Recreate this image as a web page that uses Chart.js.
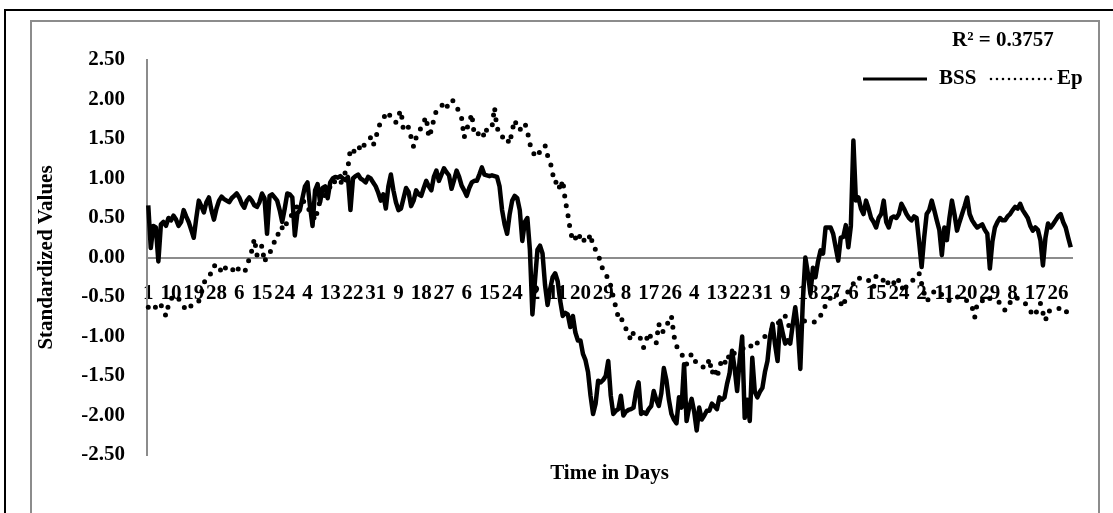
<!DOCTYPE html>
<html>
<head>
<meta charset="utf-8">
<script src="https://cdn.jsdelivr.net/npm/chart.js@4.4.1/dist/chart.umd.min.js"></script>
<style>
  html, body { margin: 0; padding: 0; background: #fff; }
  canvas { display: block; }
</style>
</head>
<body>
<canvas id="chart" width="1113" height="513"></canvas>
<script>
// Leap year: day-of-month labels for every daily observation
const monthDays = [31, 29, 31, 30, 31, 30, 31, 31, 30, 31, 30, 31];
const dayLabels = [];
monthDays.forEach(n => { for (let d = 1; d <= n; d++) dayLabels.push(String(d)); });
const labelStep = 9;

// Standardized daily series
const bss = [
  0.66, 0.12, 0.40, 0.38, -0.05, 0.42, 0.45, 0.40, 0.50, 0.47,
  0.53, 0.48, 0.40, 0.45, 0.60, 0.52, 0.45, 0.35, 0.25, 0.50,
  0.72, 0.65, 0.57, 0.70, 0.76, 0.60, 0.48, 0.62, 0.72, 0.77,
  0.74, 0.72, 0.70, 0.75, 0.78, 0.81, 0.76, 0.68, 0.63, 0.72,
  0.76, 0.72, 0.66, 0.64, 0.70, 0.81, 0.75, 0.30, 0.78, 0.80,
  0.76, 0.72, 0.60, 0.45, 0.62, 0.81, 0.80, 0.76, 0.28, 0.56,
  0.60, 0.75, 0.90, 0.95, 0.65, 0.40, 0.85, 0.93, 0.70, 0.88,
  0.90, 0.75, 0.95, 1.00, 1.02, 1.01, 1.03, 1.00, 0.98, 1.02,
  0.60, 1.00, 1.03, 1.05, 1.00, 0.98, 0.95, 1.02, 1.00, 0.95,
  0.90, 0.82, 0.72, 0.80, 0.62, 0.90, 1.05, 0.85, 0.70, 0.60,
  0.62, 0.75, 0.88, 0.83, 0.65, 0.72, 0.85, 0.80, 0.78, 0.88,
  0.97, 0.90, 0.85, 1.02, 1.10, 0.97, 1.05, 1.13, 1.08, 1.04,
  0.87, 0.98, 1.10, 1.02, 0.91, 0.85, 0.78, 0.88, 0.95, 0.97,
  0.97, 1.05, 1.14, 1.05, 1.04, 1.03, 1.04, 1.03, 1.02, 0.90,
  0.60, 0.42, 0.30, 0.55, 0.72, 0.78, 0.75, 0.60, 0.21, 0.45,
  0.50, 0.10, -0.72, -0.30, 0.10, 0.15, 0.05, -0.35, -0.60, -0.40,
  -0.25, -0.20, -0.30, -0.55, -0.74, -0.70, -0.72, -0.88, -0.74, -0.95,
  -1.05, -1.05, -1.22, -1.30, -1.45, -1.75, -1.98, -1.85, -1.56, -1.58,
  -1.55, -1.50, -1.31, -1.75, -1.98, -1.94, -1.92, -1.75, -2.00, -1.95,
  -1.93, -1.92, -1.90, -1.70, -1.58, -1.98, -1.96, -1.98, -1.92, -1.88,
  -1.69, -1.80, -1.88, -1.72, -1.40, -1.55, -1.80, -1.98, -2.05, -2.10,
  -1.77, -1.90, -1.35, -2.07, -1.90, -1.79, -1.95, -2.19, -1.90, -2.05,
  -2.00, -1.94, -1.94, -1.85, -1.88, -1.92, -1.77, -1.80, -1.77, -1.60,
  -1.47, -1.18, -1.40, -1.69, -1.30, -1.00, -2.03, -1.80, -2.07, -1.27,
  -1.70, -1.77, -1.70, -1.65, -1.45, -1.31, -1.00, -0.84, -1.10, -1.31,
  -0.80, -0.95, -1.09, -1.05, -1.09, -0.85, -0.63, -0.90, -1.41, -0.55,
  0.00, -0.20, -0.46, -0.13, -0.25, -0.05, 0.09, 0.05, 0.38, 0.38,
  0.38, 0.30, 0.13, -0.04, 0.25, 0.26, 0.41, 0.13, 0.40, 1.48,
  0.72, 0.76, 0.62, 0.55, 0.72, 0.62, 0.50, 0.45, 0.38, 0.50,
  0.55, 0.72, 0.45, 0.38, 0.50, 0.52, 0.50, 0.55, 0.68, 0.62,
  0.55, 0.50, 0.47, 0.52, 0.50, 0.20, -0.12, 0.25, 0.55, 0.60,
  0.72, 0.60, 0.47, 0.35, 0.03, 0.38, 0.22, 0.50, 0.72, 0.55,
  0.34, 0.45, 0.55, 0.65, 0.76, 0.55, 0.47, 0.42, 0.38, 0.40,
  0.42, 0.35, 0.30, -0.14, 0.20, 0.38, 0.45, 0.50, 0.47, 0.47,
  0.52, 0.55, 0.60, 0.64, 0.62, 0.68, 0.60, 0.55, 0.50, 0.40,
  0.34, 0.38, 0.35, 0.22, -0.10, 0.25, 0.43, 0.38, 0.42, 0.47,
  0.52, 0.55, 0.45, 0.38, 0.25, 0.13
];

const ep = [
  -0.63, -0.66, -0.67, -0.62, -0.57, -0.60, -0.67, -0.74, -0.60, -0.52,
  -0.50, -0.48, -0.52, -0.58, -0.62, -0.67, -0.63, -0.61, -0.57, -0.55,
  -0.55, -0.45, -0.32, -0.28, -0.25, -0.18, -0.10, -0.12, -0.10, -0.20,
  -0.15, -0.12, -0.13, -0.12, -0.20, -0.15, -0.14, -0.16, -0.19, -0.12,
  -0.01, 0.09, 0.24, 0.03, 0.10, 0.15, -0.06, 0.03, 0.06, 0.11,
  0.21, 0.30, 0.28, 0.38, 0.35, 0.47, 0.50, 0.55, 0.60, 0.65,
  0.68, 0.72, 0.70, 0.62, 0.60, 0.55, 0.47, 0.60, 0.72, 0.75,
  0.80, 0.85, 0.90, 0.98, 0.95, 0.91, 0.93, 1.00, 1.08, 1.14,
  1.38, 1.36, 1.32, 1.33, 1.44, 1.40, 1.45, 1.48, 1.52, 1.42,
  1.50, 1.65, 1.70, 1.74, 1.84, 1.80, 1.80, 1.78, 1.71, 1.80,
  1.86, 1.60, 1.62, 1.65, 1.52, 1.40, 1.52, 1.58, 1.65, 1.72,
  1.78, 1.52, 1.61, 1.75, 1.86, 1.90, 1.92, 1.95, 1.89, 1.97,
  2.00, 1.97, 1.90, 1.85, 1.76, 1.52, 1.63, 1.70, 1.82, 1.55,
  1.55, 1.58, 1.61, 1.52, 1.63, 1.62, 1.65, 1.90, 1.63, 1.60,
  1.52, 1.55, 1.50, 1.44, 1.61, 1.74, 1.65, 1.61, 1.68, 1.70,
  1.60, 1.44, 1.33, 1.30, 1.27, 1.35, 1.40, 1.42, 1.29, 1.22,
  1.06, 0.94, 0.98, 0.85, 0.98, 0.72, 0.55, 0.34, 0.21, 0.25,
  0.20, 0.30, 0.24, 0.19, 0.21, 0.30, 0.13, 0.10, 0.05, -0.08,
  -0.16, -0.23, -0.25, -0.36, -0.50, -0.63, -0.76, -0.74, -0.86, -0.90,
  -0.97, -1.05, -0.95, -0.97, -1.00, -1.03, -1.14, -1.05, -0.95, -1.02,
  -1.08, -1.08, -0.84, -0.95, -0.93, -0.90, -0.77, -0.74, -0.99, -1.12,
  -1.18, -1.22, -1.28, -1.35, -1.28, -1.22, -1.30, -1.33, -1.36, -1.39,
  -1.38, -1.39, -1.28, -1.47, -1.39, -1.52, -1.40, -1.28, -1.32, -1.35,
  -1.20, -1.22, -1.21, -1.20, -1.18, -1.16, -1.14, -1.12, -1.10, -1.15,
  -1.12, -1.08, -1.05, -1.02, -1.00, -0.98, -0.95, -0.90, -0.85, -0.84,
  -0.80, -0.76, -0.74, -0.84, -0.89, -0.85, -0.82, -0.80, -0.80, -0.81,
  -0.80, -0.80, -0.80, -0.81, -0.82, -0.78, -0.74, -0.65, -0.61, -0.58,
  -0.50, -0.46, -0.45, -0.52, -0.58, -0.63, -0.50, -0.42, -0.38, -0.33,
  -0.27, -0.25, -0.28, -0.29, -0.30, -0.29, -0.32, -0.38, -0.23, -0.25,
  -0.25, -0.30, -0.36, -0.30, -0.27, -0.32, -0.36, -0.28, -0.35, -0.44,
  -0.36, -0.34, -0.32, -0.26, -0.23, -0.20, -0.33, -0.45, -0.55, -0.52,
  -0.50, -0.42, -0.45, -0.46, -0.47, -0.48, -0.50, -0.55, -0.52, -0.50,
  -0.50, -0.50, -0.52, -0.53, -0.55, -0.58, -0.63, -0.76, -0.58, -0.55,
  -0.55, -0.50, -0.52, -0.52, -0.54, -0.55, -0.56, -0.57, -0.60, -0.67,
  -0.62, -0.57, -0.52, -0.50, -0.52, -0.55, -0.56, -0.58, -0.62, -0.68,
  -0.71, -0.74, -0.62, -0.58, -0.70, -0.80, -0.67, -0.68, -0.67, -0.66,
  -0.65, -0.64, -0.63, -0.66, -0.74, -0.71
];

const seriesNames = ['BSS', 'Ep'];
const rSquaredText = 'R\u00B2 = 0.3757';
const xTitle = 'Time in Days';
const yTitle = 'Standardized Values';
const yRange = { min: -2.5, max: 2.5, step: 0.5 };

const SERIF = '"Liberation Serif", "Times New Roman", Times, serif';
const FONT_SIZE = 21;
Chart.defaults.font.family = SERIF;
Chart.defaults.font.size = FONT_SIZE;
Chart.defaults.font.weight = 'bold';
Chart.defaults.color = '#000';

const AXIS_GRAY = '#8c8c8c';

// Outer black border and inner gray chart frame
const framePlugin = {
  id: 'frame',
  beforeDraw(chart) {
    const ctx = chart.ctx;
    ctx.save();
    ctx.fillStyle = '#fff';
    ctx.fillRect(0, 0, chart.width, chart.height);
    ctx.strokeStyle = '#000';
    ctx.lineWidth = 2;
    ctx.beginPath();
    ctx.moveTo(5, chart.height + 2);
    ctx.lineTo(5, 10);
    ctx.lineTo(chart.width + 2, 10);
    ctx.stroke();
    ctx.strokeStyle = AXIS_GRAY;
    ctx.lineWidth = 2;
    ctx.strokeRect(31, 21, 1068, chart.height + 20);
    ctx.restore();
  }
};

// R² note, legend and the x-axis title
const notesPlugin = {
  id: 'notes',
  afterDraw(chart) {
    const ctx = chart.ctx;
    const area = chart.chartArea;
    ctx.save();
    ctx.fillStyle = '#000';
    ctx.font = 'bold ' + FONT_SIZE + 'px ' + SERIF;
    ctx.textBaseline = 'alphabetic';
    ctx.textAlign = 'left';
    ctx.fillText(rSquaredText, 952, 46);

    // legend entries
    const legendY = 79;
    const entries = [
      { x0: 863, x1: 927, tx: 939, width: 3.2, dash: [] },
      { x0: 991, x1: 1054, tx: 1057, width: 2.6, dash: [0, 6] }
    ];
    entries.forEach((e, i) => {
      const ds = chart.data.datasets[i];
      ctx.strokeStyle = ds.borderColor;
      ctx.lineWidth = e.width;
      ctx.lineCap = e.dash.length ? 'round' : 'butt';
      ctx.setLineDash(e.dash);
      ctx.beginPath();
      ctx.moveTo(e.x0, legendY);
      ctx.lineTo(e.x1, legendY);
      ctx.stroke();
      ctx.setLineDash([]);
      ctx.fillText(ds.label, e.tx, legendY + 5);
    });

    ctx.textAlign = 'center';
    ctx.fillText(xTitle, (area.left + area.right) / 2, 479);
    ctx.restore();
  }
};

new Chart(document.getElementById('chart'), {
  type: 'line',
  data: {
    labels: dayLabels,
    datasets: [
      {
        label: seriesNames[0],
        data: bss,
        borderColor: '#000',
        borderWidth: 4.5,
        borderJoinStyle: 'round',
        pointRadius: 0,
        tension: 0,
        order: 1
      },
      {
        label: seriesNames[1],
        data: ep,
        borderColor: '#000',
        borderWidth: 5,
        borderDash: [0, 10],
        borderCapStyle: 'round',
        borderJoinStyle: 'round',
        pointRadius: 0,
        tension: 0,
        order: 2
      }
    ]
  },
  options: {
    responsive: false,
    animation: false,
    devicePixelRatio: 1,
    layout: { padding: { left: 24, top: 60, right: 41, bottom: 58 } },
    plugins: {
      legend: { display: false },
      tooltip: { enabled: false }
    },
    scales: {
      x: {
        type: 'category',
        position: { y: 0 },
        offset: true,
        grid: { display: true, drawOnChartArea: false, drawTicks: false },
        border: { display: true, color: AXIS_GRAY, width: 2 },
        ticks: {
          autoSkip: false,
          maxRotation: 0,
          minRotation: 0,
          padding: 23,
          color: '#000',
          callback(value, index) {
            return index % labelStep === 0 ? this.getLabelForValue(value) : '';
          }
        }
      },
      y: {
        position: 'left',
        min: yRange.min,
        max: yRange.max,
        afterFit(scale) { scale.width = 123; },
        grid: { display: true, drawOnChartArea: false, drawTicks: false },
        border: { display: true, color: AXIS_GRAY, width: 2 },
        ticks: {
          stepSize: yRange.step,
          padding: 22,
          color: '#000',
          callback(value) { return Number(value).toFixed(2); }
        },
        title: {
          display: true,
          text: yTitle,
          color: '#000',
          font: { size: FONT_SIZE, weight: 'bold' },
          padding: { top: 10, bottom: 0 }
        }
      }
    }
  },
  plugins: [framePlugin, notesPlugin]
});
</script>
</body>
</html>
